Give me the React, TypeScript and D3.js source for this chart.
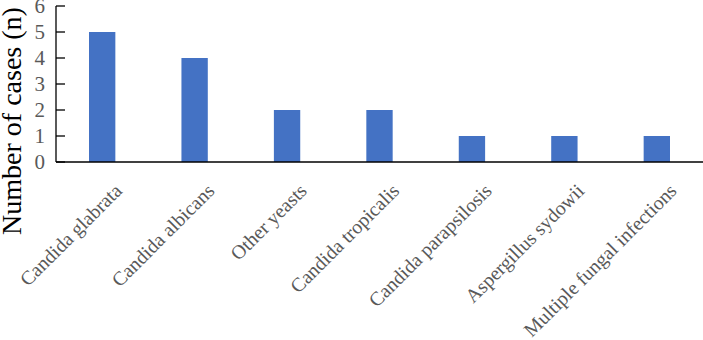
import React from "react";
import * as d3 from "d3";

const categories = [
  "Candida glabrata",
  "Candida albicans",
  "Other yeasts",
  "Candida tropicalis",
  "Candida parapsilosis",
  "Aspergillus sydowii",
  "Multiple fungal infections",
];
const values = [5, 4, 2, 2, 1, 1, 1];
const yTicks = [0, 1, 2, 3, 4, 5, 6];
const yTitle = "Number of cases (n)";

const W = 703;
const H = 340;
const left = 56;
const right = 703;
const top = 6;
const bottom = 162;
const FONT = "'Liberation Serif', 'Times New Roman', serif";

export default function App() {
  const x = d3.scaleBand<string>().domain(categories).range([left, right]).paddingInner(0.715).paddingOuter(0.357);
  const y = d3.scaleLinear().domain([0, 6]).range([bottom, top]);
  return (
    <svg width={W} height={H} style={{ position: "absolute", left: 0, top: 0, background: "#fff" }}>
      {categories.map((c, i) => (
        <rect key={c} x={x(c)} y={y(values[i])} width={x.bandwidth()} height={y(0) - y(values[i])} fill="#4472C4" />
      ))}
      <line x1={left} x2={left} y1={top} y2={bottom} stroke="#000" strokeWidth={1.3} />
      <line x1={left} x2={right} y1={bottom} y2={bottom} stroke="#000" strokeWidth={1.3} />
      {yTicks.map((t) => (
        <g key={t}>
          <line x1={left} x2={left + 9} y1={y(t)} y2={y(t)} stroke="#000" strokeWidth={1.3} />
          <text x={left - 11} y={y(t)} dy="0.35em" textAnchor="end" fontFamily={FONT} fontSize={21} fill="#595959">
            {t}
          </text>
        </g>
      ))}
      {categories.map((c) => {
        const cx = (x(c) as number) + x.bandwidth() / 2;
        return (
          <text
            key={c}
            transform={`translate(${cx + 21},${192}) rotate(-45)`}
            textAnchor="end"
            fontFamily={FONT}
            fontSize={19.8}
            fill="#595959"
          >
            {c}
          </text>
        );
      })}
      <text
        transform={`translate(21,${121}) rotate(-90)`}
        textAnchor="middle"
        fontFamily={FONT}
        fontSize={28}
        fill="#000"
      >
        {yTitle}
      </text>
    </svg>
  );
}
